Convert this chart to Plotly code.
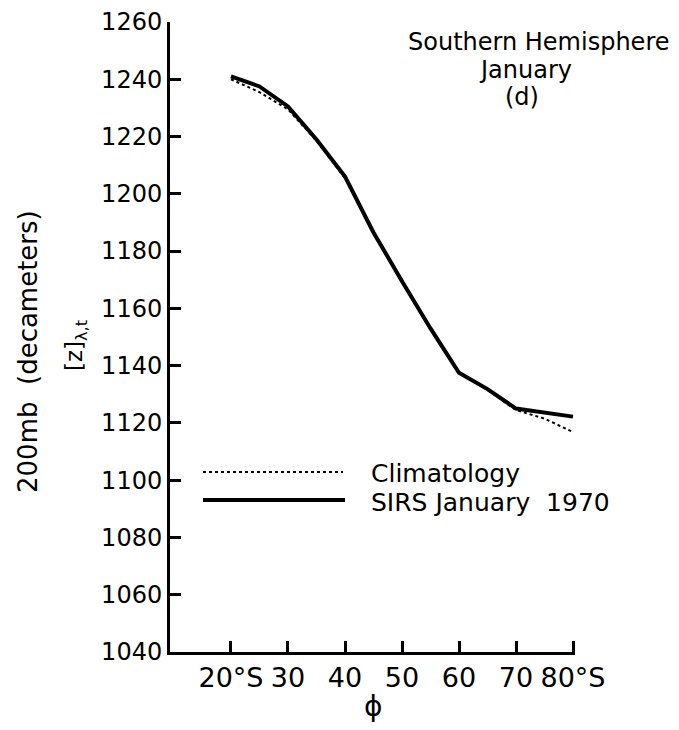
import plotly.graph_objects as go

# Data (latitude in degrees south, 200 mb height in decameters)
lat = [20, 25, 30, 35, 40, 45, 50, 55, 60, 65, 70, 75, 80]
sirs_jan_1970 = [1241, 1237.5, 1230.5, 1219, 1206, 1186.5, 1169.5, 1153, 1137.5, 1131.8, 1125, 1123.5, 1122.2]
climatology = [1240, 1235.5, 1229.5, 1218.5, 1205.5, 1186.5, 1169.5, 1153, 1137.5, 1131.5, 1124.5, 1121.5, 1116.8]

x_tickvals = [20, 30, 40, 50, 60, 70, 80]
x_ticktext = ["20°S", "30", "40", "50", "60", "70", "80°S"]
y_tickvals = [1040, 1060, 1080, 1100, 1120, 1140, 1160, 1180, 1200, 1220, 1240, 1260]

FONT = "DejaVu Sans"

fig = go.Figure()
fig.add_trace(go.Scatter(x=lat, y=climatology, mode="lines", name="Climatology",
                         line=dict(color="black", width=2, dash="dot"), showlegend=False))
fig.add_trace(go.Scatter(x=lat, y=sirs_jan_1970, mode="lines", name="SIRS January 1970",
                         line=dict(color="black", width=4), showlegend=False))

OFF = 8  # page body margin
W, H = 679 - 2 * OFF, 730 - 2 * OFF
L, T = 170 - OFF, 22 - OFF
PW, PH = 575 - 170, 652 - 22
R, B = W - L - PW, H - T - PH

def px(x):
    return (x - OFF - L) / PW

def py(y):
    return (T + PH - (y - OFF)) / PH

# Legend drawn manually
fig.add_shape(type="line", xref="paper", yref="paper", x0=px(203), x1=px(343), y0=py(472), y1=py(472),
              line=dict(color="black", width=2, dash="dot"))
fig.add_shape(type="line", xref="paper", yref="paper", x0=px(203), x1=px(345), y0=py(500), y1=py(500),
              line=dict(color="black", width=4))

annos = [
    dict(text="Climatology", x=px(369), y=py(473), xanchor="left", size=25),
    dict(text="SIRS January  1970", x=px(369), y=py(502), xanchor="left", size=25),
    dict(text="Southern Hemisphere", x=px(538), y=py(42), xanchor="center", size=24),
    dict(text="January", x=px(525), y=py(70), xanchor="center", size=24),
    dict(text="(d)", x=px(522), y=py(97), xanchor="center", size=24),
    dict(text="ϕ", x=px(373), y=py(706), xanchor="center", size=28),
]
for a in annos:
    fig.add_annotation(text=a["text"], x=a["x"], y=a["y"], xref="paper", yref="paper",
                       xanchor=a["xanchor"], yanchor="middle", showarrow=False,
                       font=dict(family=FONT, size=a["size"], color="black"))

fig.add_annotation(text="200mb  (decameters)", x=px(28), y=py(352), xref="paper", yref="paper",
                   textangle=-90, showarrow=False, xanchor="center", yanchor="middle",
                   font=dict(family=FONT, size=26, color="black"))
fig.add_annotation(text="[z]<sub>λ,t</sub>", x=px(76), y=py(346), xref="paper", yref="paper",
                   textangle=-90, showarrow=False, xanchor="center", yanchor="middle",
                   font=dict(family=FONT, size=23, color="black"))

fig.update_layout(
    template="none",
    width=W, height=H,
    margin=dict(l=L, r=R, t=T, b=B, autoexpand=False),
    paper_bgcolor="white", plot_bgcolor="white",
    xaxis=dict(range=[9.3, 80.35], tickvals=x_tickvals, ticktext=x_ticktext, automargin=False,
               showgrid=False, zeroline=False, showline=True, linecolor="black", linewidth=3,
               ticks="inside", ticklen=11, tickwidth=2.5, tickcolor="black",
               tickfont=dict(family=FONT, size=27, color="black")),
    yaxis=dict(range=[1040, 1260], tickvals=y_tickvals, automargin=False,
               showgrid=False, zeroline=False, showline=True, linecolor="black", linewidth=3,
               ticks="inside", ticklen=11, tickwidth=2.5, tickcolor="black",
               tickfont=dict(family=FONT, size=24, color="black")),
)

fig.write_html("out.html")
